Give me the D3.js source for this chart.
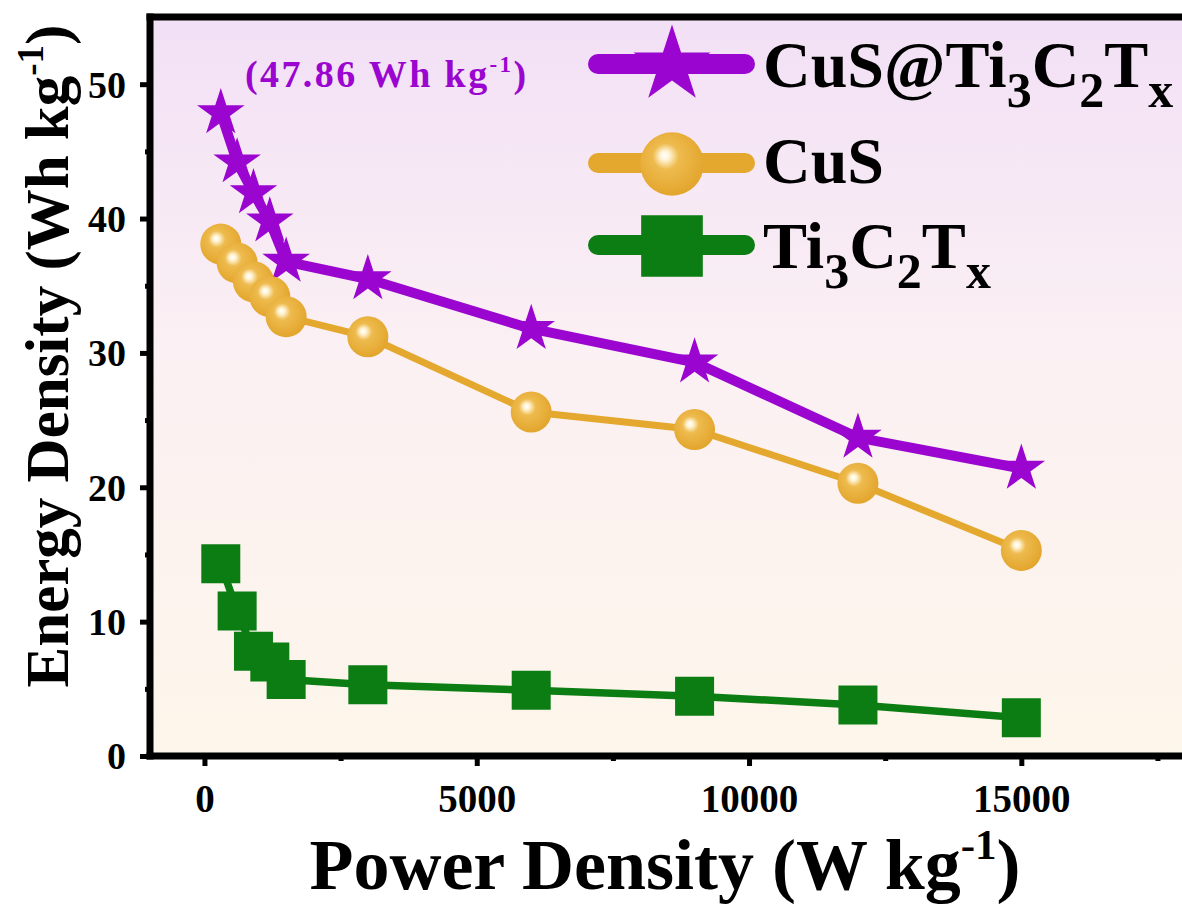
<!DOCTYPE html>
<html>
<head>
<meta charset="utf-8">
<script src="https://cdn.jsdelivr.net/npm/d3@7"></script>
<style>
  html, body { margin: 0; padding: 0; background: #ffffff; }
  svg { display: block; }
  text { font-family: "Liberation Serif", "Times New Roman", Times, serif; font-weight: bold; }
</style>
</head>
<body>
<svg id="chart" width="1182" height="909"></svg>
<script>
// Power density (W kg^-1) shared by all three electrodes
const powerDensity = [300, 600, 900, 1200, 1500, 3000, 6000, 9000, 12000, 15000];
// Energy density (Wh kg^-1)
const cusTi3c2tx = [47.86, 44.2, 41.9, 39.8, 36.8, 35.5, 31.8, 29.3, 23.7, 21.4];
const cus        = [38.1, 36.7, 35.3, 34.2, 32.7, 31.2, 25.6, 24.3, 20.3, 15.3];
const ti3c2tx    = [14.3, 10.8, 7.8, 7.0, 5.7, 5.3, 4.9, 4.45, 3.8, 2.85];

const xMajorTicks = [0, 5000, 10000, 15000];
const xMinorTicks = [2500, 7500, 12500, 17500];
const yMajorTicks = [0, 10, 20, 30, 40, 50];
const yMinorTicks = [5, 15, 25, 35, 45];

const peakLabel = "47.86";

const svg = d3.select("#chart");
const plotLeft = 150, plotRight = 1184.7, plotTop = 17, plotBottom = 756;

const x = d3.scaleLinear().domain([-1000, 18000]).range([plotLeft, plotRight]);
const y = d3.scaleLinear().domain([0, 55]).range([plotBottom, plotTop]);

const defs = svg.append("defs");
const bg = defs.append("linearGradient").attr("id", "plotBg")
  .attr("x1", 0).attr("y1", 0).attr("x2", 0).attr("y2", 1);
bg.append("stop").attr("offset", "0%").attr("stop-color", "#f2e0f6");
bg.append("stop").attr("offset", "45%").attr("stop-color", "#fbf0f3");
bg.append("stop").attr("offset", "100%").attr("stop-color", "#fdf6ea");

const ball = defs.append("radialGradient").attr("id", "ball")
  .attr("cx", 0.45).attr("cy", 0.42).attr("r", 0.6)
  .attr("fx", 0.38).attr("fy", 0.36);
ball.append("stop").attr("offset", "0%").attr("stop-color", "#ffffff");
ball.append("stop").attr("offset", "12%").attr("stop-color", "#fff4d6");
ball.append("stop").attr("offset", "34%").attr("stop-color", "#eebb4e");
ball.append("stop").attr("offset", "100%").attr("stop-color", "#e2a42b");

// plot background
svg.append("rect")
  .attr("x", plotLeft).attr("y", plotTop)
  .attr("width", plotRight - plotLeft).attr("height", plotBottom - plotTop)
  .attr("fill", "url(#plotBg)");

const purple = "#9a06cf", gold = "#e5a82f", green = "#0b7d12";

const series = [
  { name: "CuS@Ti3C2Tx", values: cusTi3c2tx, color: purple, width: 10, shape: "star" },
  { name: "CuS", values: cus, color: gold, width: 7, shape: "ball" },
  { name: "Ti3C2Tx", values: ti3c2tx, color: green, width: 7.5, shape: "square" }
];

const line = d3.line().x(d => x(d[0])).y(d => y(d[1]));

function marker(g, shape, scale) {
  if (shape === "star") {
    return g.append("path")
      .attr("d", d3.symbol(d3.symbolStar, 700 * scale * scale)())
      .attr("fill", purple);
  }
  if (shape === "square") {
    return g.append("path")
      .attr("d", d3.symbol(d3.symbolSquare, 1521 * scale * scale)())
      .attr("fill", green);
  }
  return g.append("circle").attr("r", 20.5 * scale).attr("fill", "url(#ball)");
}

const plot = svg.append("g");
series.forEach(s => {
  const pts = powerDensity.map((p, i) => [p, s.values[i]]);
  plot.append("path")
    .attr("d", line(pts))
    .attr("fill", "none")
    .attr("stroke", s.color)
    .attr("stroke-width", s.width)
    .attr("stroke-linejoin", "round");
  pts.forEach(p => {
    const g = plot.append("g").attr("transform", `translate(${x(p[0])},${y(p[1])})`);
    marker(g, s.shape, 1);
  });
});

// axes: minor ticks first, then major ticks with labels
const xMinor = svg.append("g").attr("transform", `translate(0,${plotBottom})`)
  .call(d3.axisBottom(x).tickValues(xMinorTicks).tickSize(5).tickSizeOuter(0).tickFormat(""));
const xMajor = svg.append("g").attr("transform", `translate(0,${plotBottom})`)
  .call(d3.axisBottom(x).tickValues(xMajorTicks).tickSize(10).tickSizeOuter(0).tickFormat(d3.format("d")));
const yMinor = svg.append("g").attr("transform", `translate(${plotLeft},0)`)
  .call(d3.axisLeft(y).tickValues(yMinorTicks).tickSize(5).tickSizeOuter(0).tickFormat(""));
const yMajor = svg.append("g").attr("transform", `translate(${plotLeft},0)`)
  .call(d3.axisLeft(y).tickValues(yMajorTicks).tickSize(10).tickSizeOuter(0).tickFormat(d3.format("d")));

[xMinor, xMajor, yMinor, yMajor].forEach(a => {
  a.select(".domain").remove();
  a.selectAll(".tick line").attr("stroke", "#000").attr("stroke-width", 5);
});
xMajor.selectAll(".tick text")
  .attr("y", 56).attr("dy", 0)
  .attr("font-size", 39).attr("fill", "#000")
  .style("font-family", "'Liberation Serif', 'Times New Roman', serif").style("font-weight", "bold");
yMajor.selectAll(".tick text")
  .attr("x", -24).attr("dy", "0.34em")
  .attr("font-size", 38).attr("fill", "#000")
  .style("font-family", "'Liberation Serif', 'Times New Roman', serif").style("font-weight", "bold");

// frame: left, bottom and top spines
const frame = svg.append("g").attr("stroke", "#000").attr("stroke-width", 7).attr("fill", "none");
frame.append("path").attr("d", `M${plotLeft},${plotTop - 3.5}V${plotBottom + 3.5}`);
frame.append("path").attr("d", `M${plotLeft - 3.5},${plotBottom}H${plotRight + 3.5}`);
frame.append("path").attr("d", `M${plotLeft - 3.5},${plotTop}H${plotRight + 3.5}`);

// peak annotation
const ann = svg.append("text").attr("x", 245).attr("y", 87)
  .attr("font-size", 38).attr("letter-spacing", 2.4).attr("fill", purple);
ann.append("tspan").text(`(${peakLabel} Wh kg`);
ann.append("tspan").attr("font-size", 23).attr("dy", -15).text("-1");
ann.append("tspan").attr("dy", 15).text(")");

// legend
const legendRows = [
  { shape: "star", color: purple, lineY: 64, markY: 65, textY: 87,
    parts: [["CuS@Ti", 0], ["3", 1], ["C", 0], ["2", 1], ["T", 0], ["x", 1]] },
  { shape: "ball", color: gold, lineY: 163, markY: 164, textY: 183,
    parts: [["CuS", 0]] },
  { shape: "square", color: green, lineY: 245, markY: 246, textY: 268,
    parts: [["Ti", 0], ["3", 1], ["C", 0], ["2", 1], ["T", 0], ["x", 1]] }
];
const legend = svg.append("g");
legendRows.forEach(r => {
  legend.append("line")
    .attr("x1", 598).attr("x2", 745).attr("y1", r.lineY).attr("y2", r.lineY)
    .attr("stroke", r.color).attr("stroke-width", 20).attr("stroke-linecap", "round");
  const g = legend.append("g").attr("transform", `translate(672,${r.markY})`);
  marker(g, r.shape, r.shape === "star" ? 1.62 : (r.shape === "ball" ? 1.55 : 1.58));
  const t = legend.append("text").attr("x", 763).attr("y", r.textY)
    .attr("font-size", 66).attr("fill", "#000");
  let sub = 0;
  r.parts.forEach(([str, isSub]) => {
    const ts = t.append("tspan").text(str);
    if (isSub && !sub) { ts.attr("font-size", 50).attr("dy", 20); sub = 1; }
    else if (isSub) { ts.attr("font-size", 50); }
    else if (sub) { ts.attr("dy", -20); sub = 0; }
  });
});

// axis titles
const xt = svg.append("text").attr("x", 665).attr("y", 889)
  .attr("text-anchor", "middle").attr("font-size", 72).attr("fill", "#000");
xt.append("tspan").text("Power Density (W kg");
xt.append("tspan").attr("font-size", 43).attr("dy", -30).text("-1");
xt.append("tspan").attr("dy", 30).text(")");

const yt = svg.append("text").attr("transform", "translate(68,356) rotate(-90)")
  .attr("text-anchor", "middle").attr("font-size", 61).attr("fill", "#000");
yt.append("tspan").text("Energy Density (Wh kg");
yt.append("tspan").attr("font-size", 37).attr("dy", -25).text("-1");
yt.append("tspan").attr("dy", 25).text(")");
</script>
</body>
</html>
